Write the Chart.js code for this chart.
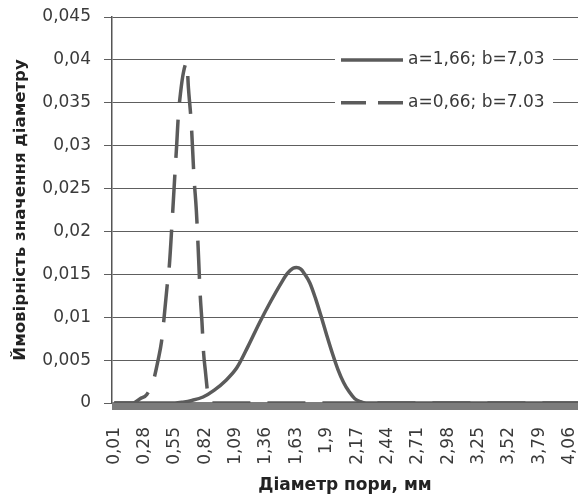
<!DOCTYPE html>
<html>
<head>
<meta charset="utf-8">
<script src="https://cdn.jsdelivr.net/npm/chart.js@4/dist/chart.umd.min.js"></script>
<style>
  html, body { margin: 0; padding: 0; background: #fff; }
  canvas { display: block; }
</style>
</head>
<body>
<canvas id="myChart" width="579" height="497"></canvas>
<script>
// x positions (mm) and probabilities
const solidX = [0.01, 0.55, 0.62, 0.7, 0.8, 0.9, 1.0, 1.1, 1.2, 1.3, 1.4, 1.5, 1.55, 1.6, 1.63, 1.67, 1.7, 1.75, 1.8, 1.85, 1.9, 1.95, 2.0, 2.05, 2.1, 2.15, 2.2, 2.25, 4.135];
const solidY = [0, 0, 0.0001, 0.0003, 0.0007, 0.0015, 0.0026, 0.0041, 0.0066, 0.0093, 0.0118, 0.0141, 0.0151, 0.0157, 0.0158, 0.0156, 0.0151, 0.0140, 0.0122, 0.0101, 0.0079, 0.0058, 0.0039, 0.0024, 0.0013, 0.0005, 0.00015, 0, 0];

const dashX = [0.01, 0.18, 0.24, 0.30, 0.36, 0.40, 0.43, 0.45, 0.48, 0.50, 0.525, 0.55, 0.565, 0.58, 0.60, 0.625, 0.655, 0.67, 0.695, 0.72, 0.74, 0.755, 0.775, 0.79, 0.805, 0.82, 0.845, 0.87, 4.135];
const dashY = [0, 0, 0.0005, 0.0010, 0.0027, 0.0050, 0.0071, 0.0095, 0.0136, 0.0160, 0.0212, 0.0268, 0.0300, 0.0335, 0.0362, 0.0385, 0.0397, 0.0367, 0.0326, 0.0262, 0.0225, 0.0185, 0.0125, 0.0095, 0.0058, 0.0038, 0.0008, 0, 0];

const seriesNames = ['a=1,66; b=7,03', 'a=0,66; b=7.03'];

const xTickValues = [0.01, 0.28, 0.55, 0.82, 1.09, 1.36, 1.63, 1.9, 2.17, 2.44, 2.71, 2.98, 3.25, 3.52, 3.79, 4.06];
const xTickLabels = ['0,01', '0,28', '0,55', '0,82', '1,09', '1,36', '1,63', '1,9', '2,17', '2,44', '2,71', '2,98', '3,25', '3,52', '3,79', '4,06'];
const yTickValues = [0, 0.005, 0.01, 0.015, 0.02, 0.025, 0.03, 0.035, 0.04, 0.045];
const yTickLabels = ['0', '0,005', '0,01', '0,015', '0,02', '0,025', '0,03', '0,035', '0,04', '0,045'];

const lineColor = '#5b5b5b';
const textColor = '#3a3a3a';
const fontFamily = '"DejaVu Sans", Verdana, sans-serif';

// thick grey band along the zero line
const baseBand = {
  id: 'baseBand',
  beforeDatasetsDraw(chart) {
    const {ctx, chartArea} = chart;
    ctx.save();
    ctx.fillStyle = '#7c7c7c';
    ctx.fillRect(chartArea.left, chartArea.bottom - 1, chartArea.right - chartArea.left, 8);
    ctx.restore();
  }
};

// legend sits inside the plot, on a white box, its rows lying on the 0,04 and 0,035 grid lines
const insideLegend = {
  id: 'insideLegend',
  afterDatasetsDraw(chart) {
    const {ctx} = chart;
    const yScale = chart.scales.y;
    const rows = [yScale.getPixelForValue(0.04), yScale.getPixelForValue(0.035)];
    const dashes = [[], [25, 12]];
    ctx.save();
    ctx.fillStyle = '#fff';
    ctx.fillRect(335, rows[0] - 17, 218, rows[1] - rows[0] + 34);
    rows.forEach((y, i) => {
      ctx.strokeStyle = lineColor;
      ctx.lineWidth = 3.5;
      ctx.setLineDash(dashes[i]);
      ctx.beginPath();
      ctx.moveTo(341, y);
      ctx.lineTo(403, y);
      ctx.stroke();
      ctx.setLineDash([]);
      ctx.fillStyle = textColor;
      ctx.font = '17px ' + fontFamily;
      ctx.textBaseline = 'middle';
      ctx.fillText(seriesNames[i], 408, y);
    });
    ctx.restore();
  }
};

const config = {
  type: 'line',
  data: {
    datasets: [
      {
        label: seriesNames[0],
        data: solidX.map((x, i) => ({x: x, y: solidY[i]})),
        borderColor: lineColor,
        borderWidth: 3.5,
        pointRadius: 0,
        cubicInterpolationMode: 'monotone',
      },
      {
        label: seriesNames[1],
        data: dashX.map((x, i) => ({x: x, y: dashY[i]})),
        borderColor: lineColor,
        borderWidth: 3.5,
        borderDash: [38, 17],
        borderCapStyle: 'butt',
        pointRadius: 0,
        cubicInterpolationMode: 'monotone',
      }
    ]
  },
  options: {
    responsive: false,
    animation: false,
    layout: {padding: {top: 17, right: 1, left: 0, bottom: 0}},
    plugins: {
      legend: {display: false},
      tooltip: {enabled: false},
    },
    scales: {
      x: {
        type: 'linear',
        min: -0.01,
        max: 4.135,
        afterBuildTicks: (axis) => {
          axis.ticks = xTickValues.map(v => ({value: v}));
        },
        afterFit: (axis) => {
          axis.height = 94;
          axis.paddingLeft = 0;
          axis.paddingRight = 0;
        },
        grid: {display: false, drawTicks: false},
        border: {display: false},
        ticks: {
          autoSkip: false,
          minRotation: 90,
          maxRotation: 90,
          padding: 24,
          color: textColor,
          font: {family: fontFamily, size: 17},
          callback: (value, index) => xTickLabels[index],
        },
        title: {
          display: true,
          text: 'Діаметр пори, мм',
          color: '#222',
          font: {family: fontFamily, size: 17, weight: 'bold'},
          padding: {top: 0, bottom: 1},
        },
      },
      y: {
        min: 0,
        max: 0.045,
        afterBuildTicks: (axis) => {
          axis.ticks = yTickValues.map(v => ({value: v}));
        },
        afterFit: (axis) => {
          axis.width = 112;
          axis.paddingTop = 0;
          axis.paddingBottom = 0;
        },
        grid: {color: '#5e5e5e', lineWidth: 1, tickLength: 8},
        border: {display: true, color: '#555', width: 1.5},
        ticks: {
          padding: 13,
          color: textColor,
          font: {family: fontFamily, size: 17},
          callback: (value, index) => yTickLabels[index],
        },
        title: {
          display: true,
          text: 'Ймовірність значення діаметру',
          color: '#222',
          font: {family: fontFamily, size: 16.6, weight: 'bold'},
          padding: {top: 11, bottom: 0},
        },
      },
    },
  },
  plugins: [baseBand, insideLegend],
};

window.onload = function() {
  const ctx = document.getElementById('myChart');
  new Chart(ctx, config);
};
</script>
</body>
</html>
